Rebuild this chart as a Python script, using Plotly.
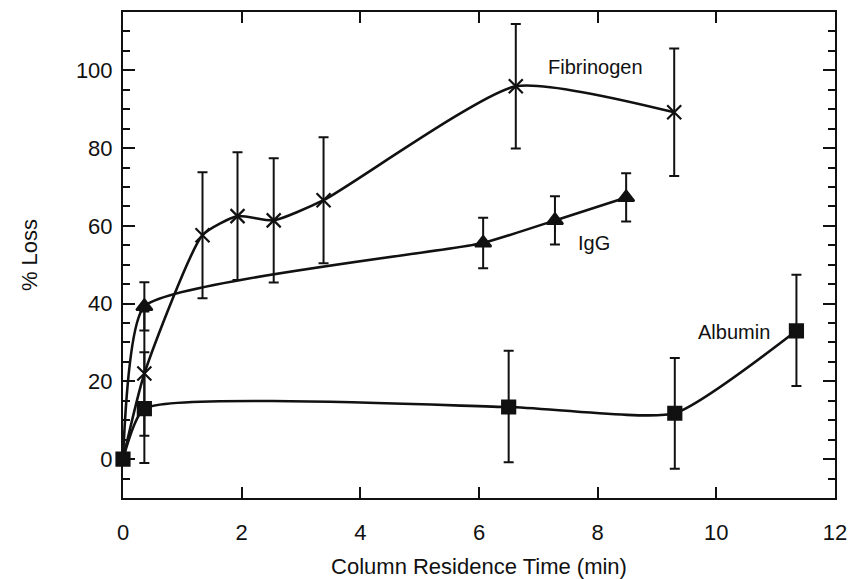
import plotly.graph_objects as go

# Fibrinogen
fib_x = [0, 0.36, 1.34, 1.93, 2.54, 3.38, 6.62, 9.29]
fib_y = [0, 22.0, 57.6, 62.5, 61.4, 66.6, 95.9, 89.2]
fib_err = [None, 16.0, 16.2, 16.4, 16.0, 16.2, 16.0, 16.4]

# IgG
igg_x = [0, 0.36, 6.07, 7.28, 8.48]
igg_y = [0, 39.3, 55.6, 61.4, 67.3]
igg_err = [None, 6.2, 6.5, 6.2, 6.2]

# Albumin
alb_x = [0, 0.36, 6.5, 9.3, 11.35]
alb_y = [0, 13.0, 13.4, 11.8, 33.0]
alb_err_plus = [None, 14.5, 14.5, 14.2, 14.4]
alb_err_minus = [None, 14.0, 14.2, 14.3, 14.2]

labels = ["Fibrinogen", "IgG", "Albumin"]
label_x = [7.96, 7.94, 10.29]
label_y = [100.9, 55.6, 32.7]

FONT = "Liberation Sans, Arial, Helvetica, sans-serif"
BLACK = "#111111"

fig = go.Figure()

def add_series(x, y, ep, em, symbol, size, first_hidden, smooth):
    sizes = [size] * len(x)
    if first_hidden:
        sizes[0] = 0
    fig.add_trace(go.Scatter(
        x=x, y=y, mode="lines+markers",
        line=dict(color=BLACK, width=2.6, shape="spline", smoothing=smooth),
        marker=dict(symbol=symbol, size=sizes, color=BLACK, opacity=1,
                    line=dict(color=BLACK, width=2.2)),
        error_y=dict(type="data", symmetric=False, array=ep, arrayminus=em,
                     color=BLACK, thickness=2, width=5),
        showlegend=False, cliponaxis=False,
    ))

add_series(fib_x, fib_y, fib_err, fib_err, "x-thin", 14, True, 0.55)
add_series(igg_x, igg_y, igg_err, igg_err, "triangle-up", 14, True, 0.45)
add_series(alb_x, alb_y, alb_err_plus, alb_err_minus, "square", 13, False, 0.5)

for t, ax_, ay_ in zip(labels, label_x, label_y):
    fig.add_annotation(x=ax_, y=ay_, text=t, showarrow=False,
                       font=dict(family=FONT, size=20, color=BLACK),
                       xanchor="center", yanchor="middle")

fig.update_layout(
    width=850, height=579,
    margin=dict(l=123, r=15, t=12, b=81),
    paper_bgcolor="white", plot_bgcolor="white",
    font=dict(family=FONT, size=22, color=BLACK),
)
fig.update_xaxes(
    range=[0, 12], tickmode="linear", tick0=0, dtick=2,
    ticks="inside", ticklen=11, tickwidth=2, tickcolor=BLACK,
    showline=True, linewidth=2, linecolor=BLACK, mirror="allticks",
    showgrid=False, zeroline=False, automargin=False,
    tickfont=dict(family=FONT, size=22, color=BLACK),
    ticklabelstandoff=14,
    title=dict(text="Column Residence Time (min)", standoff=20,
               font=dict(family=FONT, size=22, color=BLACK)),
)
fig.update_yaxes(
    range=[-10, 115], tickmode="linear", tick0=0, dtick=20,
    ticks="inside", ticklen=12, tickwidth=2, tickcolor=BLACK,
    minor=dict(ticks="inside", dtick=5, tick0=0, ticklen=7, tickwidth=2, tickcolor=BLACK),
    showline=True, linewidth=2, linecolor=BLACK, mirror="allticks",
    showgrid=False, zeroline=False, automargin=False,
    tickfont=dict(family=FONT, size=22, color=BLACK),
    ticklabelstandoff=4,
    title=dict(text="% Loss", standoff=32,
               font=dict(family=FONT, size=22, color=BLACK)),
)

fig.write_html("out.html")
